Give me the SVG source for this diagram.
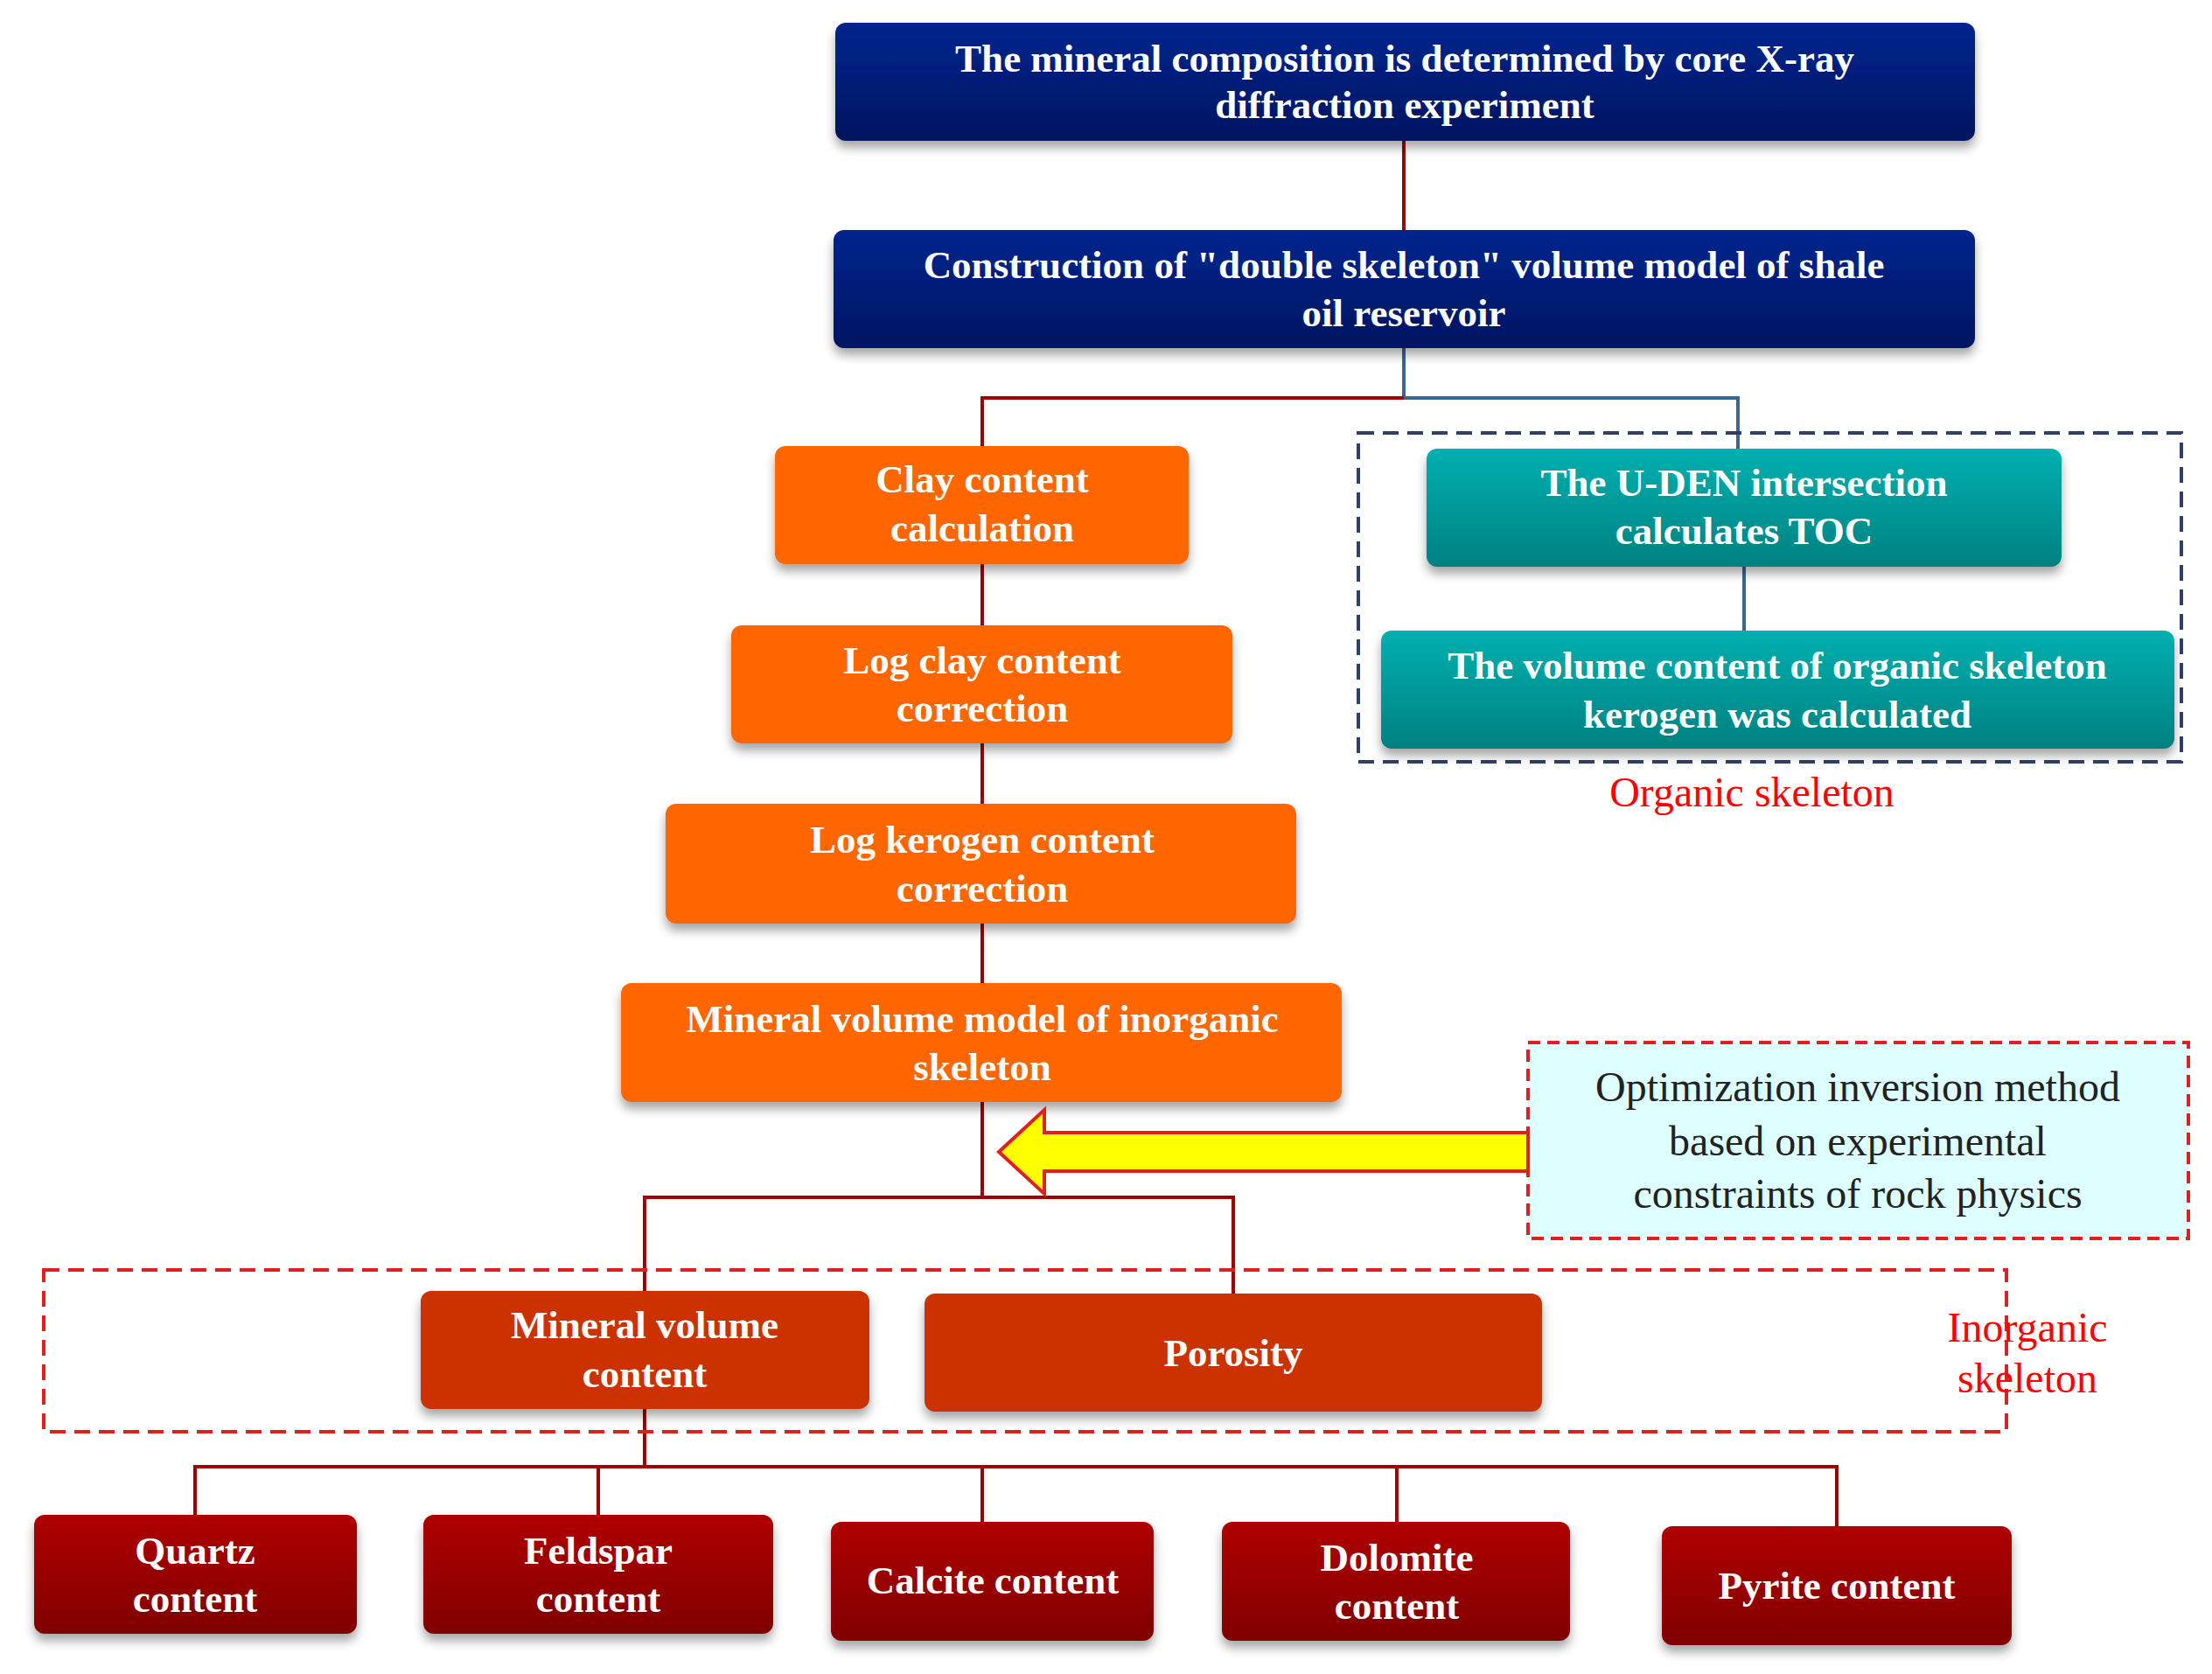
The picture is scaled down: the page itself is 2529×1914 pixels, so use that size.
<svg xmlns="http://www.w3.org/2000/svg" width="2529" height="1914" viewBox="0 0 2529 1914">
<defs>
<linearGradient id="gNavy" x1="0" y1="0" x2="0" y2="1"><stop offset="0" stop-color="#00258F"/><stop offset="1" stop-color="#001560"/></linearGradient>
<linearGradient id="gTeal" x1="0" y1="0" x2="0" y2="1"><stop offset="0" stop-color="#00B0B0"/><stop offset="1" stop-color="#008080"/></linearGradient>
<linearGradient id="gRed" x1="0" y1="0" x2="0" y2="1"><stop offset="0" stop-color="#B00000"/><stop offset="1" stop-color="#800000"/></linearGradient>
<filter id="sh" x="-10%" y="-20%" width="120%" height="150%"><feDropShadow dx="0" dy="8" stdDeviation="6" flood-color="#000" flood-opacity="0.35"/></filter>
</defs>
<style>
.box{filter:url(#sh)}
.t{font-family:"Liberation Serif","Times New Roman",serif;font-weight:bold;font-size:45px;fill:#fff;text-anchor:middle}
.n{font-family:"Liberation Serif","Times New Roman",serif;font-size:48px;text-anchor:middle}
.r{stroke:#A00000;stroke-width:4;fill:none}
.b{stroke:#3A6690;stroke-width:4;fill:none}
</style>
<rect width="2529" height="1914" fill="#fff"/>
<g id="connectors">
<path class="r" d="M1605 161V263"/>
<path class="b" d="M1605 398V455H1987V513"/>
<path class="r" d="M1605 455H1123V510"/>
<path class="r" d="M1123 645V715M1123 850V919M1123 1056V1124M1123 1260V1369"/>
<path class="r" d="M737 1476V1369H1410V1479"/>
<path class="b" d="M1994 648V721"/>
<path class="r" d="M737 1611V1677M223 1732V1677H2100V1745M684 1677V1732M1123 1677V1740M1597 1677V1740"/>
</g>
<g id="organic-group">
<rect x="1553" y="495" width="941" height="376" fill="none" stroke="#2F3F6A" stroke-width="4" stroke-dasharray="18 10"/>
<text class="n" x="2003" y="922" fill="#FF0000">Organic skeleton</text>
</g>
<g id="inorganic-group">
<rect x="50" y="1452" width="2244" height="185" fill="none" stroke="#E02020" stroke-width="4" stroke-dasharray="18 10"/>
<text class="n" x="2318" y="1534" fill="#FF0000" text-anchor="start">Inorganic</text>
<text class="n" x="2318" y="1592" fill="#FF0000" text-anchor="start">skeleton</text>
</g>
<g id="n1"><rect class="box" x="955" y="26" width="1303" height="135" rx="12" fill="url(#gNavy)"/>
<text class="t" x="1606" y="82">The mineral composition is determined by core X-ray</text><text class="t" x="1606" y="135">diffraction experiment</text></g>
<g id="n2"><rect class="box" x="953" y="263" width="1305" height="135" rx="12" fill="url(#gNavy)"/>
<text class="t" x="1605" y="318">Construction of "double skeleton" volume model of shale</text><text class="t" x="1605" y="373">oil reservoir</text></g>
<g id="n3"><rect class="box" x="886" y="510" width="473" height="135" rx="12" fill="#FF6600"/>
<text class="t" x="1123" y="563">Clay content</text><text class="t" x="1123" y="619">calculation</text></g>
<g id="n4"><rect class="box" x="836" y="715" width="573" height="135" rx="12" fill="#FF6600"/>
<text class="t" x="1123" y="770">Log clay content</text><text class="t" x="1123" y="825">correction</text></g>
<g id="n5"><rect class="box" x="761" y="919" width="721" height="137" rx="12" fill="#FF6600"/>
<text class="t" x="1123" y="975">Log kerogen content</text><text class="t" x="1123" y="1031">correction</text></g>
<g id="n6"><rect class="box" x="710" y="1124" width="824" height="136" rx="12" fill="#FF6600"/>
<text class="t" x="1123" y="1180">Mineral volume model of inorganic</text><text class="t" x="1123" y="1235">skeleton</text></g>
<g id="n7"><rect class="box" x="1631" y="513" width="726" height="135" rx="12" fill="url(#gTeal)"/>
<text class="t" x="1994" y="567">The U-DEN intersection</text><text class="t" x="1994" y="622">calculates TOC</text></g>
<g id="n8"><rect class="box" x="1579" y="721" width="907" height="135" rx="12" fill="url(#gTeal)"/>
<text class="t" x="2032" y="776">The volume content of organic skeleton</text><text class="t" x="2032" y="832">kerogen was calculated</text></g>
<g id="n9"><rect x="1747" y="1192" width="755" height="224" fill="#DDFFFF" stroke="#E02020" stroke-width="4" stroke-dasharray="14 8"/>
<text class="n" x="2124" y="1259" fill="#222">Optimization inversion method</text><text class="n" x="2124" y="1321" fill="#222">based on experimental</text><text class="n" x="2124" y="1381" fill="#222">constraints of rock physics</text></g>
<g id="arrow"><path d="M1747 1295H1194V1269L1142 1317L1194 1365V1339H1747Z" fill="#FFFF00" stroke="#E02020" stroke-width="4"/></g>
<g id="n10"><rect class="box" x="481" y="1476" width="513" height="135" rx="12" fill="#CC3300"/>
<text class="t" x="737" y="1530">Mineral volume</text><text class="t" x="737" y="1586">content</text></g>
<g id="n11"><rect class="box" x="1057" y="1479" width="706" height="135" rx="12" fill="#CC3300"/>
<text class="t" x="1410" y="1562">Porosity</text></g>
<g id="n12"><rect class="box" x="39" y="1732" width="369" height="136" rx="12" fill="url(#gRed)"/>
<text class="t" x="223" y="1788">Quartz</text><text class="t" x="223" y="1843">content</text></g>
<g id="n13"><rect class="box" x="484" y="1732" width="400" height="136" rx="12" fill="url(#gRed)"/>
<text class="t" x="684" y="1788">Feldspar</text><text class="t" x="684" y="1843">content</text></g>
<g id="n14"><rect class="box" x="950" y="1740" width="369" height="136" rx="12" fill="url(#gRed)"/>
<text class="t" x="1135" y="1822">Calcite content</text></g>
<g id="n15"><rect class="box" x="1397" y="1740" width="398" height="136" rx="12" fill="url(#gRed)"/>
<text class="t" x="1597" y="1796">Dolomite</text><text class="t" x="1597" y="1851">content</text></g>
<g id="n16"><rect class="box" x="1900" y="1745" width="400" height="136" rx="12" fill="url(#gRed)"/>
<text class="t" x="2100" y="1828">Pyrite content</text></g>
</svg>
